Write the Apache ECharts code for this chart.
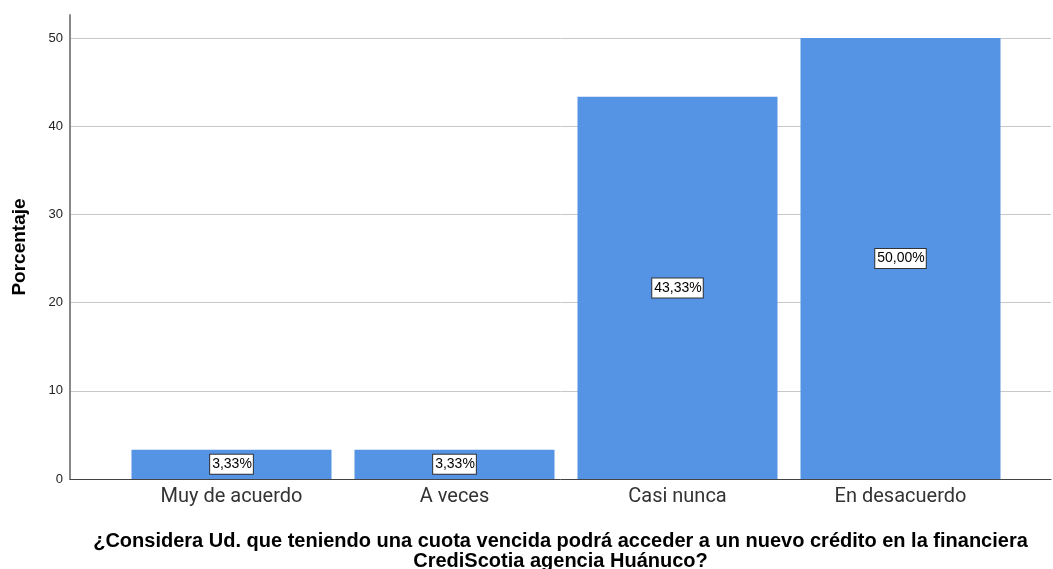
<!DOCTYPE html>
<html>
<head>
<meta charset="utf-8">
<script src="https://cdn.jsdelivr.net/npm/echarts@6/dist/echarts.min.js"></script>
<style>
  html, body { margin: 0; padding: 0; background: #fff; }
  #chart { width: 1053px; height: 569px; }
</style>
</head>
<body>
<div id="chart"></div>
<script>
// Response categories and their percentages
const categories = ['Muy de acuerdo', 'A veces', 'Casi nunca', 'En desacuerdo'];
const percentages = [3.33, 3.33, 43.33, 50.00];
const yTicks = [0, 10, 20, 30, 40, 50];

const axisTitle = '¿Considera Ud. que teniendo una cuota vencida podrá acceder a un nuevo crédito en la financiera\nCrediScotia agencia Huánuco?';
const yTitle = 'Porcentaje';

const yMax = 52.6;

const chart = echarts.init(document.getElementById('chart'), null, { renderer: 'canvas' });

chart.setOption({
  animation: false,
  grid: [
    // frame: y axis, gridlines and baseline across the full width
    { left: 70, right: 2, top: 15, bottom: 90, outerBoundsMode: 'none', containLabel: false },
    // inner band holding the bars
    { left: 120, right: 41, top: 15, bottom: 90, outerBoundsMode: 'none', containLabel: false }
  ],
  xAxis: [
    {
      gridIndex: 0, type: 'value', min: 0, max: 1,
      axisLine: { show: true, lineStyle: { color: '#444', width: 1 } },
      axisTick: { show: false }, axisLabel: { show: false }, splitLine: { show: false },
      name: axisTitle, nameLocation: 'middle', nameGap: 52,
      nameTextStyle: { fontFamily: 'Liberation Sans, Arial', fontSize: 20, fontWeight: 'bold', color: '#000', lineHeight: 20 }
    },
    {
      gridIndex: 1, type: 'category', data: categories,
      axisLine: { show: false }, axisTick: { show: false },
      axisLabel: { fontFamily: 'Roboto, Liberation Sans', fontSize: 20, color: '#333', margin: 8 }
    }
  ],
  yAxis: [
    {
      gridIndex: 0, type: 'value', min: 0, max: yMax, interval: 10,
      axisLine: { show: true, lineStyle: { color: '#888', width: 2 } },
      axisTick: { show: false },
      axisLabel: {
        fontFamily: 'Liberation Sans, Arial', fontSize: 13, color: '#222', margin: 7,
        formatter: v => (yTicks.indexOf(v) >= 0 ? String(v) : '')
      },
      splitLine: { show: true, showMaxLine: false, showMinLine: false, lineStyle: { color: '#c8c8c8', width: 1 } },
      name: yTitle, nameLocation: 'middle', nameGap: 41, nameRotate: 90,
      nameTextStyle: { fontFamily: 'Liberation Sans, Arial', fontSize: 19, fontWeight: 'bold', color: '#000' }
    },
    {
      gridIndex: 1, type: 'value', min: 0, max: yMax, interval: 10, show: false,
      splitLine: { show: false }
    }
  ],
  series: [
    {
      type: 'bar', xAxisIndex: 1, yAxisIndex: 1,
      data: percentages,
      barWidth: 200,
      itemStyle: { color: '#5593e4' },
      label: {
        show: true, position: 'inside',
        formatter: p => p.value.toFixed(2).replace('.', ',') + '%',
        fontFamily: 'Liberation Sans, Arial', fontSize: 14, color: '#000',
        backgroundColor: '#fff', borderColor: '#333', borderWidth: 1,
        padding: [3, 1, 2, 2]
      }
    }
  ]
});
</script>
</body>
</html>
